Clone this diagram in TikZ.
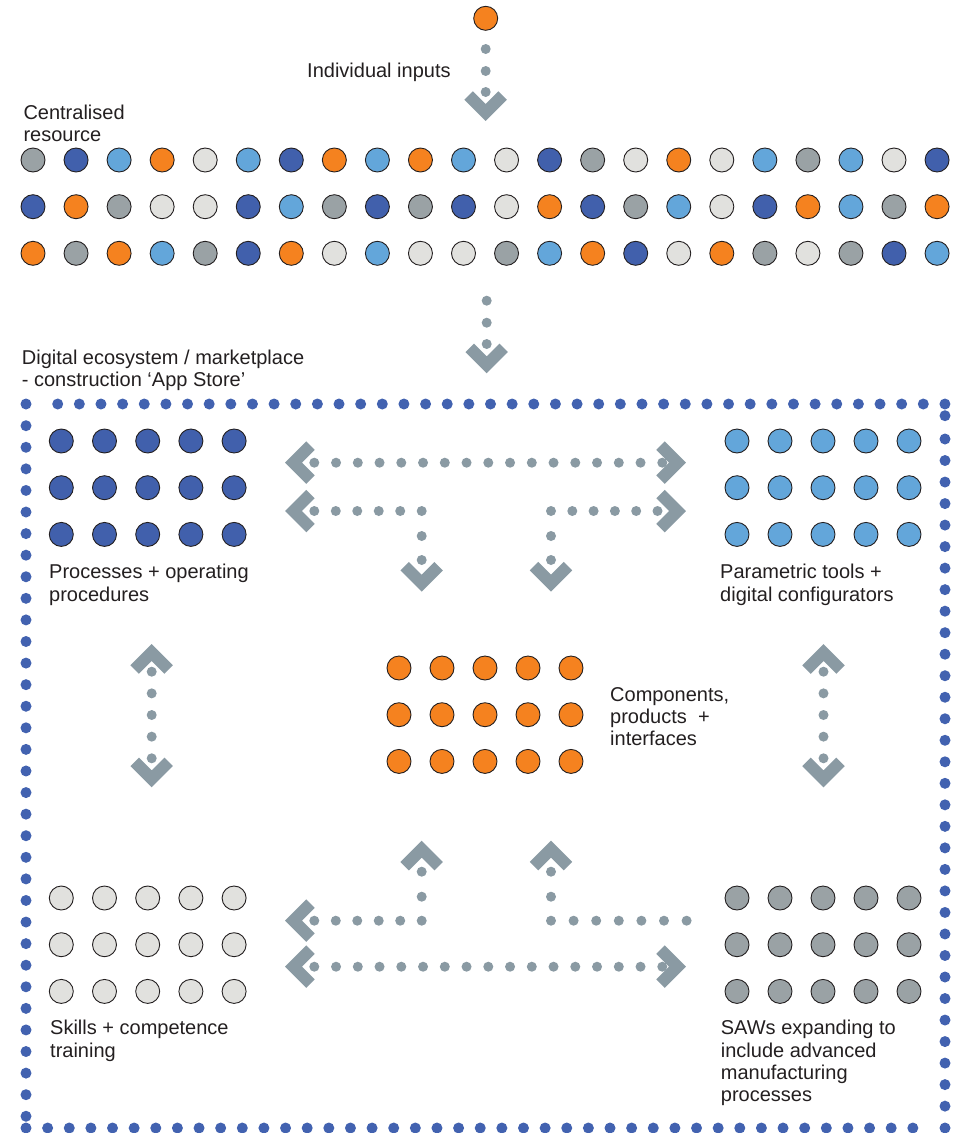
\documentclass[tikz,border=0pt]{standalone}
\usepackage{fontspec}
\setmainfont{Liberation Sans}
\definecolor{cor}{HTML}{F5821F}
\definecolor{cdb}{HTML}{4160AC}
\definecolor{clb}{HTML}{63A6DA}
\definecolor{cgy}{HTML}{9AA2A5}
\definecolor{cwh}{HTML}{E1E1DE}
\definecolor{arr}{HTML}{8A9AA3}
\definecolor{bdr}{HTML}{4262B0}
\definecolor{txt}{HTML}{231F20}
\newcommand\chevD[2]{\draw[chevron] ({#1-17},{#2-25.5}) -- (#1,{#2-8.5}) -- ({#1+17},{#2-25.5});}
\newcommand\chevU[2]{\draw[chevron] ({#1-17},{#2+25.5}) -- (#1,{#2+8.5}) -- ({#1+17},{#2+25.5});}
\newcommand\chevL[2]{\draw[chevron] ({#1+25.5},{#2-17}) -- ({#1+8.5},#2) -- ({#1+25.5},{#2+17});}
\newcommand\chevR[2]{\draw[chevron] ({#1-25.5},{#2-17}) -- ({#1-8.5},#2) -- ({#1-25.5},{#2+17});}
\newcommand\gdot[2]{\fill[arr] (#1,#2) circle[radius=5];}
\newcommand\bdot[2]{\fill[bdr] (#1,#2) circle[radius=5.5];}
\begin{document}
\begin{tikzpicture}[x=1pt,y=-1pt,
  lbl/.style={inner sep=0pt, anchor=base west, align=left, text=txt, font=\fontsize{20}{22.2}\selectfont},
  chevron/.style={draw=arr, line width=12pt, line join=miter, line cap=butt},
  ball/.style={draw=txt, line width=0.9pt}]
\useasboundingbox (0,0) rectangle (960,1133);

% ---- top input ----
\filldraw[ball, fill=cor] (485.7,18.3) circle[radius=12];
\foreach \y in {49,71,92} {\gdot{485.7}{\y}}
\chevD{485.7}{121}
\node[lbl] (inputs) at (307,77) {Individual inputs};

% ---- centralised resource ----
\node[lbl] (central) at (23.3,141.3) {Centralised\\resource};
\foreach \c [count=\i from 0] in {cgy,cdb,clb,cor,cwh,clb,cdb,cor,clb,cor,clb,cwh,cdb,cgy,cwh,cor,cwh,clb,cgy,clb,cwh,cdb}
  {\filldraw[ball, fill=\c] ({33+43.05*\i},160) circle[radius=12];}
\foreach \c [count=\i from 0] in {cdb,cor,cgy,cwh,cwh,cdb,clb,cgy,cdb,cgy,cdb,cwh,cor,cdb,cgy,clb,cwh,cdb,cor,clb,cgy,cor}
  {\filldraw[ball, fill=\c] ({33+43.05*\i},206.7) circle[radius=12];}
\foreach \c [count=\i from 0] in {cor,cgy,cor,clb,cgy,cdb,cor,cwh,clb,cwh,cwh,cgy,clb,cor,cdb,cwh,cor,cgy,cwh,cgy,cdb,clb}
  {\filldraw[ball, fill=\c] ({33+43.05*\i},253.3) circle[radius=12];}

% ---- second arrow ----
\foreach \y in {300.7,322.7,344} {\gdot{486.7}{\y}}
\chevD{486.7}{373.3}
\node[lbl] (eco) at (21.7,386.5) {Digital ecosystem / marketplace\\- construction ‘App Store’};

% ---- dotted border ----
\bdot{26}{404}
\foreach \k in {0,...,41} {\bdot{57.7+21.64*\k}{404}}
\foreach \k in {0,...,32} {\bdot{26}{425.7+21.58*\k}}
\foreach \k in {0,...,41} {\bdot{26+21.63*\k}{1128}}
\bdot{945}{1128}
\bdot{945}{415.7}
\foreach \k in {0,...,31} {\bdot{945}{439+21.52*\k}}

% ---- grids ----
\foreach \r in {0,1,2} \foreach \k in {0,...,4} {
  \filldraw[ball, fill=cdb] ({61.3+43.2*\k},{441+46.7*\r}) circle[radius=12];
  \filldraw[ball, fill=clb] ({737+43*\k},{441+46.7*\r}) circle[radius=12];
  \filldraw[ball, fill=cor] ({399+43*\k},{668+46.7*\r}) circle[radius=12];
  \filldraw[ball, fill=cwh] ({61.3+43.2*\k},{898+46.7*\r}) circle[radius=12];
  \filldraw[ball, fill=cgy] ({737+43*\k},{898+46.7*\r}) circle[radius=12];
}

% ---- labels ----
\node[lbl] (proc) at (49,601) {Processes + operating\\procedures};
\node[lbl] (param) at (720,601) {Parametric tools +\\digital configurators};
\node[lbl] (comp) at (610,745.5) {Components,\\products\ \ +\\interfaces};
\node[lbl] (skills) at (50,1057) {Skills + competence\\training};
\node[lbl] (saws) at (720.7,1101.5) {SAWs expanding to\\include advanced\\manufacturing\\processes};

% ---- top horizontal arrows ----
\chevL{285}{462.7}
\foreach \k in {0,...,16} {\gdot{314.3+21.75*\k}{462.7}}
\chevR{686}{462.7}
\chevL{285}{511}
\foreach \k in {0,...,5} {\gdot{314.3+21.48*\k}{511}}
\foreach \y in {536,560} {\gdot{421.7}{\y}}
\chevD{421.7}{591.7}
\foreach \k in {0,...,5} {\gdot{551+21.3*\k}{511}}
\chevR{686}{511}
\foreach \y in {536,560} {\gdot{551}{\y}}
\chevD{551}{591.7}

% ---- bottom arrows ----
\chevU{421.7}{840.7}
\chevU{551}{840.7}
\foreach \y in {871.7,896.7} {\gdot{421.7}{\y}\gdot{551}{\y}}
\chevL{285}{920.7}
\foreach \k in {0,...,5} {\gdot{314.3+21.48*\k}{920.7}}
\foreach \k in {0,...,6} {\gdot{551+22.6*\k}{920.7}}
\chevL{285}{966.7}
\foreach \k in {0,...,16} {\gdot{314.3+21.75*\k}{966.7}}
\chevR{686}{966.7}

% ---- vertical side arrows ----
\foreach \x in {151.7,823.5} {
  \chevU{\x}{644}
  \foreach \k in {0,...,4} {\gdot{\x}{671.7+21.65*\k}}
  \chevD{\x}{787.3}
}
\end{tikzpicture}
\end{document}
